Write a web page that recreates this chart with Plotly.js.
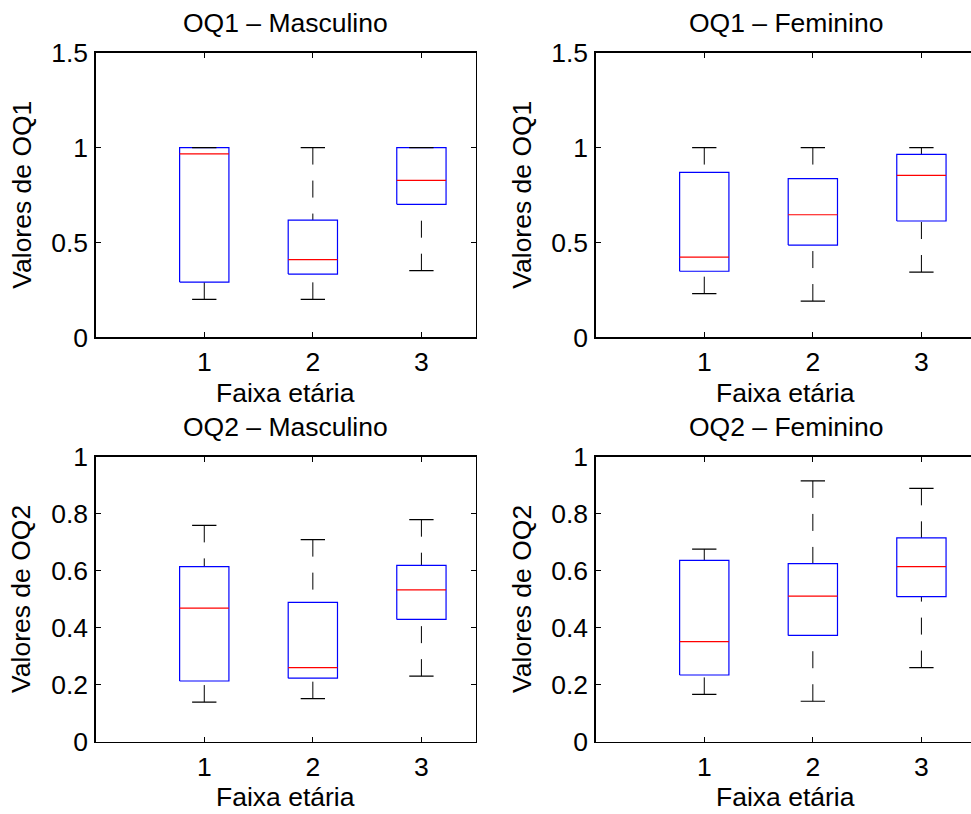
<!DOCTYPE html>
<html>
<head>
<meta charset="utf-8">
<script src="https://cdn.plot.ly/plotly-3.0.1.min.js"></script>
<style>
html,body{margin:0;padding:0;overflow:hidden;background:#ffffff;width:971px;height:814px;}
#chart{width:990px;height:814px;}
</style>
</head>
<body>
<div id="chart"></div>
<script>
// ---- data ----
const categories = [1, 2, 3];
const xTickLabels = ['1', '2', '3'];

// OQ1 - Masculino
const oq1MascLower  = [0.200, 0.200, 0.351];
const oq1MascQ1     = [0.291, 0.333, 0.701];
const oq1MascMedian = [0.967, 0.409, 0.827];
const oq1MascQ3     = [1.000, 0.618, 1.000];
const oq1MascUpper  = [1.000, 1.000, 1.000];

// OQ1 - Feminino
const oq1FemLower  = [0.230, 0.191, 0.344];
const oq1FemQ1     = [0.348, 0.486, 0.613];
const oq1FemMedian = [0.423, 0.646, 0.853];
const oq1FemQ3     = [0.869, 0.836, 0.964];
const oq1FemUpper  = [1.000, 1.000, 1.000];

// OQ2 - Masculino
const oq2MascLower  = [0.139, 0.151, 0.230];
const oq2MascQ1     = [0.213, 0.223, 0.429];
const oq2MascMedian = [0.469, 0.260, 0.533];
const oq2MascQ3     = [0.614, 0.489, 0.619];
const oq2MascUpper  = [0.759, 0.709, 0.779];

// OQ2 - Feminino
const oq2FemLower  = [0.166, 0.142, 0.260];
const oq2FemQ1     = [0.234, 0.373, 0.509];
const oq2FemMedian = [0.351, 0.511, 0.614];
const oq2FemQ3     = [0.636, 0.625, 0.715];
const oq2FemUpper  = [0.676, 0.915, 0.889];

const panelTitles = ['OQ1 – Masculino', 'OQ1 – Feminino', 'OQ2 – Masculino', 'OQ2 – Feminino'];
const yTitles = ['Valores de OQ1', 'Valores de OQ1', 'Valores de OQ2', 'Valores de OQ2'];
const xTitle = 'Faixa etária';

// ---- styles ----
const BOX_HALF = 0.227;
const CAP_HALF = 0.112;
const FONT = {family: 'Liberation Sans, Arial, Helvetica, sans-serif', size: 26.5, color: '#000000'};
const W = 990, H = 814;

const panels = [
  {xa: 'x',  ya: 'y',  lower: oq1MascLower, q1: oq1MascQ1, med: oq1MascMedian, q3: oq1MascQ3, upper: oq1MascUpper, yrange: [0, 1.5], dtick: 0.5,
   px: [95.7, 475.7], py: [52.7, 337.3]},
  {xa: 'x2', ya: 'y2', lower: oq1FemLower, q1: oq1FemQ1, med: oq1FemMedian, q3: oq1FemQ3, upper: oq1FemUpper, yrange: [0, 1.5], dtick: 0.5,
   px: [595.7, 975.7], py: [52.7, 337.3]},
  {xa: 'x3', ya: 'y3', lower: oq2MascLower, q1: oq2MascQ1, med: oq2MascMedian, q3: oq2MascQ3, upper: oq2MascUpper, yrange: [0, 1], dtick: 0.2,
   px: [95.7, 475.7], py: [456.7, 741.7]},
  {xa: 'x4', ya: 'y4', lower: oq2FemLower, q1: oq2FemQ1, med: oq2FemMedian, q3: oq2FemQ3, upper: oq2FemUpper, yrange: [0, 1], dtick: 0.2,
   px: [595.7, 975.7], py: [456.7, 741.7]}
];

const traces = [];
const layout = {
  width: W, height: H,
  margin: {l: 0, r: 0, t: 0, b: 0},
  paper_bgcolor: '#ffffff', plot_bgcolor: '#ffffff',
  showlegend: false,
  font: FONT,
  annotations: []
};

panels.forEach((p, idx) => {
  const wx = [], wy = [], bx = [], by = [], mx = [], my = [], cx = [], cy = [];
  categories.forEach((c, i) => {
    wx.push(c, c, null, c, c, null);
    wy.push(p.upper[i], p.q3[i], null, p.lower[i], p.q1[i], null);
    bx.push(c - BOX_HALF, c + BOX_HALF, c + BOX_HALF, c - BOX_HALF, c - BOX_HALF, null);
    by.push(p.q1[i], p.q1[i], p.q3[i], p.q3[i], p.q1[i], null);
    mx.push(c - BOX_HALF, c + BOX_HALF, null);
    my.push(p.med[i], p.med[i], null);
    cx.push(c - CAP_HALF, c + CAP_HALF, null, c - CAP_HALF, c + CAP_HALF, null);
    cy.push(p.upper[i], p.upper[i], null, p.lower[i], p.lower[i], null);
  });
  const base = {type: 'scatter', mode: 'lines', xaxis: p.xa, yaxis: p.ya, hoverinfo: 'skip', connectgaps: false};
  traces.push(Object.assign({}, base, {x: wx, y: wy, line: {color: '#000000', width: 1, dash: '17px,16px'}}));
  traces.push(Object.assign({}, base, {x: bx, y: by, line: {color: '#0000ff', width: 1.2}}));
  traces.push(Object.assign({}, base, {x: mx, y: my, line: {color: '#ff0000', width: 1.2}}));
  traces.push(Object.assign({}, base, {x: cx, y: cy, line: {color: '#000000', width: 1.2}}));

  const xKey = 'xaxis' + (idx === 0 ? '' : idx + 1);
  const yKey = 'yaxis' + (idx === 0 ? '' : idx + 1);
  layout[xKey] = {
    domain: [p.px[0] / W, p.px[1] / W],
    anchor: p.ya,
    range: [0, 3.5],
    tickmode: 'array', tickvals: categories, ticktext: xTickLabels,
    ticks: 'inside', ticklen: 5, tickwidth: 1, tickcolor: '#000000',
    showline: true, linecolor: '#000000', linewidth: 1.3, mirror: 'ticks',
    showgrid: false, zeroline: false, fixedrange: true,
    tickfont: FONT, ticklabelstandoff: 1
  };
  layout[yKey] = {
    domain: [1 - p.py[1] / H, 1 - p.py[0] / H],
    anchor: p.xa,
    range: p.yrange, tick0: 0, dtick: p.dtick,
    ticks: 'inside', ticklen: 5, tickwidth: 1, tickcolor: '#000000',
    showline: true, linecolor: '#000000', linewidth: 1.3, mirror: 'ticks',
    showgrid: false, zeroline: false, fixedrange: true,
    tickfont: FONT, ticklabelstandoff: 1
  };
  layout.annotations.push({
    xref: p.xa + ' domain', yref: p.ya + ' domain', x: 0.5, y: 1,
    xanchor: 'center', yanchor: 'middle', yshift: 29.4,
    text: panelTitles[idx], showarrow: false, font: FONT
  });
  layout.annotations.push({
    xref: p.xa + ' domain', yref: p.ya + ' domain', x: 0.5, y: 0,
    xanchor: 'center', yanchor: 'middle', yshift: -55.5,
    text: xTitle, showarrow: false, font: FONT
  });
  layout.annotations.push({
    xref: p.xa + ' domain', yref: p.ya + ' domain', x: 0, y: 0.5,
    xanchor: 'center', yanchor: 'middle', xshift: -74, textangle: -90,
    text: yTitles[idx], showarrow: false, font: FONT
  });
});

Plotly.newPlot('chart', traces, layout, {displayModeBar: false, staticPlot: true});
</script>
</body>
</html>
